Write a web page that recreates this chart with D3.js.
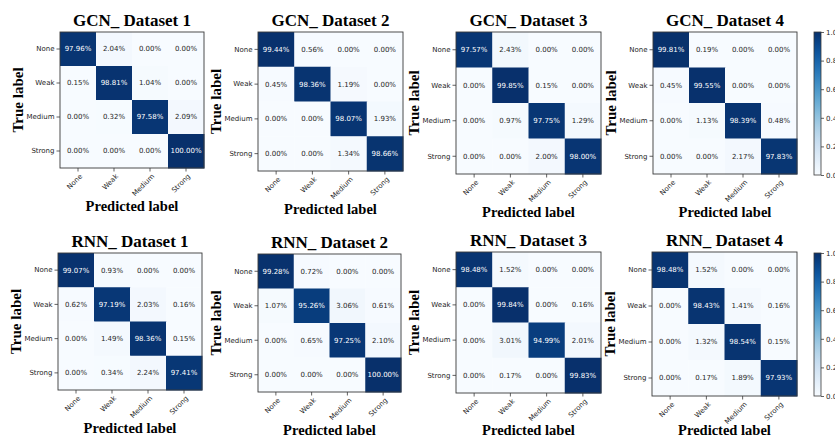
<!DOCTYPE html>
<html>
<head>
<meta charset="utf-8">
<script src="https://cdn.jsdelivr.net/npm/d3@7"></script>
<style>
  html, body { margin: 0; padding: 0; background: #ffffff; }
  svg { display: block; }
</style>
</head>
<body>
<svg id="chart" width="835" height="439"></svg>
<script>
// ---------------- data ----------------
const categories = ["None", "Weak", "Medium", "Strong"];
const titles = ["GCN_ Dataset 1", "GCN_ Dataset 2", "GCN_ Dataset 3", "GCN_ Dataset 4",
                "RNN_ Dataset 1", "RNN_ Dataset 2", "RNN_ Dataset 3", "RNN_ Dataset 4"];
const colorbarTicks = [0.0, 0.2, 0.4, 0.6, 0.8, 1.0];

const gcnDataset1 = [[97.96, 2.04, 0.00, 0.00], [0.15, 98.81, 1.04, 0.00], [0.00, 0.32, 97.58, 2.09], [0.00, 0.00, 0.00, 100.00]];
const gcnDataset2 = [[99.44, 0.56, 0.00, 0.00], [0.45, 98.36, 1.19, 0.00], [0.00, 0.00, 98.07, 1.93], [0.00, 0.00, 1.34, 98.66]];
const gcnDataset3 = [[97.57, 2.43, 0.00, 0.00], [0.00, 99.85, 0.15, 0.00], [0.00, 0.97, 97.75, 1.29], [0.00, 0.00, 2.00, 98.00]];
const gcnDataset4 = [[99.81, 0.19, 0.00, 0.00], [0.45, 99.55, 0.00, 0.00], [0.00, 1.13, 98.39, 0.48], [0.00, 0.00, 2.17, 97.83]];
const rnnDataset1 = [[99.07, 0.93, 0.00, 0.00], [0.62, 97.19, 2.03, 0.16], [0.00, 1.49, 98.36, 0.15], [0.00, 0.34, 2.24, 97.41]];
const rnnDataset2 = [[99.28, 0.72, 0.00, 0.00], [1.07, 95.26, 3.06, 0.61], [0.00, 0.65, 97.25, 2.10], [0.00, 0.00, 0.00, 100.00]];
const rnnDataset3 = [[98.48, 1.52, 0.00, 0.00], [0.00, 99.84, 0.00, 0.16], [0.00, 3.01, 94.99, 2.01], [0.00, 0.17, 0.00, 99.83]];
const rnnDataset4 = [[98.48, 1.52, 0.00, 0.00], [0.00, 98.43, 1.41, 0.16], [0.00, 1.32, 98.54, 0.15], [0.00, 0.17, 1.89, 97.93]];
const matrices = [gcnDataset1, gcnDataset2, gcnDataset3, gcnDataset4,
                  rnnDataset1, rnnDataset2, rnnDataset3, rnnDataset4];

// ---------------- layout ----------------
const panels = [
  {x0: 60,  x1: 204, y0: 32,  y1: 168},
  {x0: 258, x1: 403, y0: 32,  y1: 171},
  {x0: 456, x1: 601, y0: 32,  y1: 174},
  {x0: 653, x1: 797, y0: 32,  y1: 174},
  {x0: 58,  x1: 202, y0: 253, y1: 390},
  {x0: 258, x1: 401, y0: 254, y1: 392},
  {x0: 456, x1: 601, y0: 252, y1: 393},
  {x0: 652, x1: 797, y0: 252, y1: 396}
];
const colorbars = [
  {x0: 814, x1: 821, y0: 32,  y1: 175},
  {x0: 814, x1: 821, y0: 253, y1: 396}
];

const serif = "'Liberation Serif', 'Times New Roman', serif";
const sans = "'DejaVu Sans', sans-serif";
const color = v => d3.interpolateBlues(v / 100);

const svg = d3.select("#chart");
svg.append("rect").attr("width", 835).attr("height", 439).attr("fill", "#fff");

panels.forEach((p, i) => {
  const data = matrices[i];
  const g = svg.append("g");
  const x = d3.scaleBand().domain(categories).range([p.x0, p.x1]);
  const y = d3.scaleBand().domain(categories).range([p.y0, p.y1]);

  const cells = [];
  data.forEach((row, r) => row.forEach((v, c) => cells.push({r: categories[r], c: categories[c], v})));

  g.selectAll("rect.cell").data(cells).join("rect")
    .attr("class", "cell")
    .attr("x", d => x(d.c)).attr("y", d => y(d.r))
    .attr("width", x.bandwidth() + 0.5).attr("height", y.bandwidth() + 0.5)
    .attr("fill", d => color(d.v));

  g.selectAll("text.val").data(cells).join("text")
    .attr("class", "val")
    .attr("x", d => x(d.c) + x.bandwidth() / 2)
    .attr("y", d => y(d.r) + y.bandwidth() / 2)
    .attr("dy", "0.35em")
    .attr("text-anchor", "middle")
    .attr("font-family", sans).attr("font-size", 7)
    .attr("fill", d => d.v > 50 ? "#ffffff" : "#262626")
    .text(d => d.v.toFixed(2) + "%");

  g.append("rect")
    .attr("x", p.x0).attr("y", p.y0)
    .attr("width", p.x1 - p.x0).attr("height", p.y1 - p.y0)
    .attr("fill", "none").attr("stroke", "#3a3a3a").attr("stroke-width", 0.9);

  // axes
  const xAxis = g.append("g").attr("transform", `translate(0,${p.y1})`)
    .call(d3.axisBottom(x).tickSize(3.5).tickSizeOuter(0));
  xAxis.select(".domain").remove();
  xAxis.selectAll("line").attr("stroke", "#3a3a3a").attr("stroke-width", 0.8);
  xAxis.selectAll("text")
    .attr("font-family", sans).attr("font-size", 7).attr("fill", "#262626")
    .attr("text-anchor", "end")
    .attr("x", 0).attr("y", 0).attr("dy", "0.35em")
    .attr("transform", "translate(3,7) rotate(-45)");

  const yAxis = g.append("g").attr("transform", `translate(${p.x0},0)`)
    .call(d3.axisLeft(y).tickSize(3.5).tickPadding(2).tickSizeOuter(0));
  yAxis.select(".domain").remove();
  yAxis.selectAll("line").attr("stroke", "#3a3a3a").attr("stroke-width", 0.8);
  yAxis.selectAll("text").attr("font-family", sans).attr("font-size", 7).attr("fill", "#262626");

  // titles
  g.append("text")
    .attr("x", (p.x0 + p.x1) / 2).attr("y", p.y0 - 6)
    .attr("text-anchor", "middle")
    .attr("font-family", serif).attr("font-weight", "bold").attr("font-size", 17)
    .attr("fill", "#000")
    .text(titles[i]);

  g.append("text")
    .attr("x", (p.x0 + p.x1) / 2).attr("y", Math.min(p.y1 + 43, 435))
    .attr("text-anchor", "middle")
    .attr("font-family", serif).attr("font-weight", "bold").attr("font-size", 14.5)
    .attr("fill", "#000")
    .text("Predicted label");

  g.append("text")
    .attr("transform", `translate(${p.x0 - 37},${(p.y0 + p.y1) / 2}) rotate(-90)`)
    .attr("text-anchor", "middle")
    .attr("font-family", serif).attr("font-weight", "bold").attr("font-size", 15)
    .attr("fill", "#000")
    .text("True  label");
});

// colorbars
const defs = svg.append("defs");
const grad = defs.append("linearGradient").attr("id", "blues")
  .attr("x1", 0).attr("y1", 1).attr("x2", 0).attr("y2", 0);
d3.range(0, 1.0001, 0.05).forEach(t => {
  grad.append("stop").attr("offset", t).attr("stop-color", d3.interpolateBlues(t));
});

colorbars.forEach(cb => {
  const g = svg.append("g");
  const s = d3.scaleLinear().domain([0, 1]).range([cb.y1, cb.y0]);
  g.append("rect")
    .attr("x", cb.x0).attr("y", cb.y0)
    .attr("width", cb.x1 - cb.x0).attr("height", cb.y1 - cb.y0)
    .attr("fill", "url(#blues)")
    .attr("stroke", "#3a3a3a").attr("stroke-width", 0.8);
  const ax = g.append("g").attr("transform", `translate(${cb.x1},0)`)
    .call(d3.axisRight(s).tickValues(colorbarTicks).tickFormat(d3.format(".1f")).tickSize(3).tickPadding(2));
  ax.select(".domain").remove();
  ax.selectAll("line").attr("stroke", "#3a3a3a").attr("stroke-width", 0.8);
  ax.selectAll("text").attr("font-family", sans).attr("font-size", 7).attr("fill", "#262626");
});
</script>
</body>
</html>
